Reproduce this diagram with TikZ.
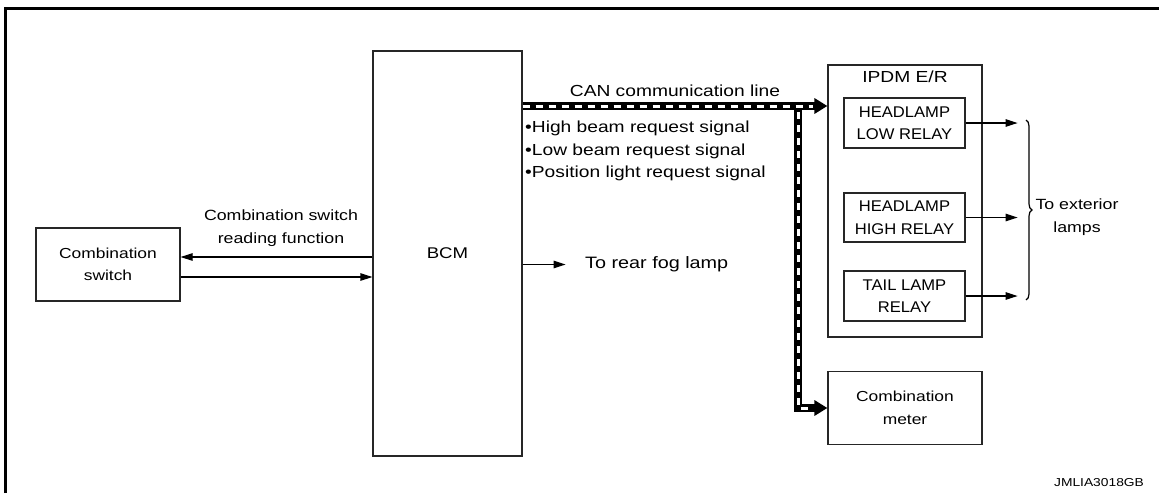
\documentclass[tikz,border=0pt]{standalone}
\usepackage{fontspec}
\setmainfont[FakeStretch=1.2]{Liberation Sans}
\newfontfamily\relayfont[FakeStretch=1.07]{Liberation Sans}
\usetikzlibrary{arrows.meta, positioning, calc, decorations.pathreplacing}

\newcommand{\fsz}[1]{\fontsize{#1}{22.5}\selectfont}

\begin{document}
\begin{tikzpicture}[x=1pt, y=-1pt,
        box/.style={draw=black!85, line width=1.2pt, align=center, font=\fsz{14}, inner sep=0pt},
        relay/.style={box, minimum width=121pt, minimum height=50pt, font=\relayfont\fsz{15.5}},
        lbl/.style={align=center, font=\fsz{14}, inner sep=0pt},
        arr/.style={-{Triangle[length=12pt, width=7.5pt]}, line width=1.2pt},
        canline/.style={line width=8pt, -{Triangle[length=13pt, width=15pt]}},
        candash/.style={white, line width=3pt, dash pattern=on 7pt off 6pt}
    ]
        \useasboundingbox (0,0) rectangle (1159,493);
        % frame
        \draw[line width=3pt] (5.5,493) -- (5.5,8.5) -- (1159,8.5);

        % BCM and switch
        \node[box, font=\fsz{15.5}, minimum width=149pt, minimum height=405pt] (bcm) at (447.5,253.5) {BCM};
        \node[box, font=\fsz{14.5}, minimum width=144pt, minimum height=73pt] (csw) at (108,264.5) {Combination\\switch};
        \node[lbl, font=\fsz{14.8}] (rdlbl) at (281,228) {Combination switch\\reading function};
        \draw[arr] (bcm.west |- 0,257) -- (csw.east |- 0,257);
        \draw[arr] (csw.east |- 0,277) -- (bcm.west |- 0,277);

        % rear fog
        \node[lbl, font=\fsz{16.5}, anchor=west] (fog) at (585,264.5) {To rear fog lamp};
        \draw[arr] (bcm.east |- fog) -- ++(43,0);

        % IPDM E/R
        \node[box, minimum width=154pt, minimum height=272pt] (ipdm) at (905,201) {};
        \node[lbl, font=\fsz{16}] (ipdmlbl) at (905,77) {IPDM E/R};
        \node[relay] (lowrly) at (904.5,123) {HEADLAMP\\LOW RELAY};
        \node[relay, minimum height=49pt] (highrly) at (904.5,217.5) {HEADLAMP\\HIGH RELAY};
        \node[relay] (tailrly) at (904.5,296) {TAIL LAMP\\RELAY};
        \draw[arr] (lowrly.east) -- ++(52,0);
        \draw[arr] (highrly.east) -- ++(52,0);
        \draw[arr] (tailrly.east) -- ++(52,0);
        \draw[decorate, decoration={brace, amplitude=6pt}, line width=1.2pt] (1026,120) -- (1026,300);
        \node[lbl, font=\fsz{14.8}] (extlbl) at (1077,217) {To exterior\\lamps};

        % combination meter
        \node[box, font=\fsz{14.5}, minimum width=154pt, minimum height=73pt] (meter) at (905,408) {Combination\\meter};

        % CAN line
        \coordinate (cany) at (0,106);
        \coordinate (branch) at (798,106);
        \node[lbl, font=\fsz{16}] (canlbl) at (675,91) {CAN communication line};
        \draw[canline] (bcm.east |- cany) -- (ipdm.west |- cany);
        \draw[canline] (branch) |- (meter.west);
        \draw[candash] (bcm.east |- cany) -- ++(290,0);
        \draw[candash] ([yshift=-6pt]branch) |- ([xshift=-16pt]meter.west);
        \node[lbl, font=\fsz{16}, anchor=west, align=left] (sigs) at (525,151) {•High beam request signal\\•Low beam request signal\\•Position light request signal};

        \node[lbl, font=\fsz{11.5}] (code) at (1099,483) {JMLIA3018GB};
    \end{tikzpicture}
\end{document}
